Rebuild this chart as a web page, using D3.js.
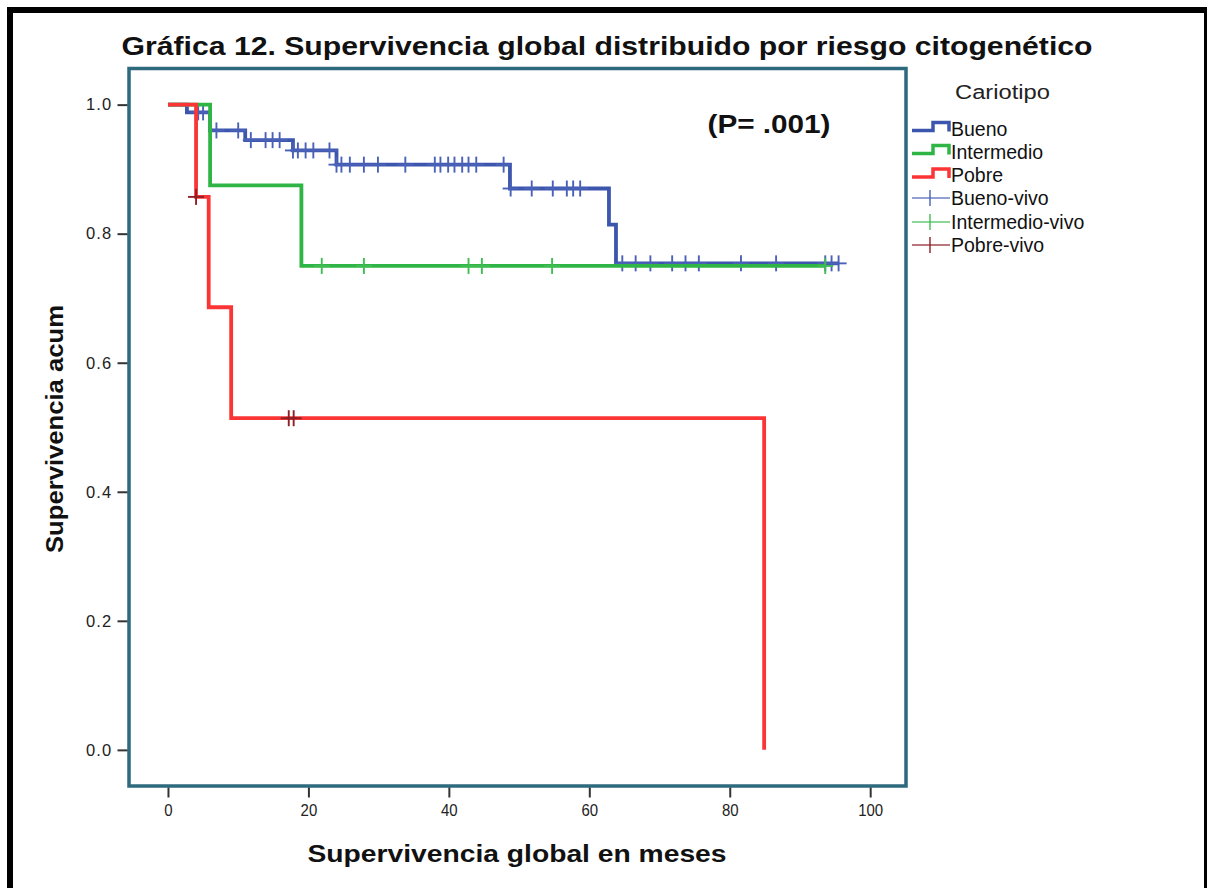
<!DOCTYPE html>
<meta charset="utf-8">
<style>
body { margin: 0; background: #fff; }
text { font-family: Arial, "Liberation Sans", sans-serif; fill: #111; }
.axis path { display: none; }
.axis line { stroke: #333; stroke-width: 2px; }
</style>
<svg width="1207" height="888"></svg>
<script src="https://d3js.org/d3.v7.min.js"></script>
<script>
// Kaplan-Meier curves: step times (months) and survival after each step
var buenoTimes = [0, 2.7, 6.0, 11.0, 17.8, 24.0, 48.7, 62.8, 63.8, 95.5];
var buenoSurv  = [1, 0.988, 0.960, 0.945, 0.929, 0.907, 0.870, 0.814, 0.754, 0.754];
var buenoCensored = [4.3, 5.0, 6.9, 10.0, 11.8, 13.9, 14.9, 15.9, 17.8, 18.5, 19.6, 20.7, 23.0,
                     24.0, 24.7, 25.9, 27.9, 29.9, 33.8, 38.0, 38.8, 39.9, 40.8, 41.9, 42.8, 43.9, 47.8,
                     48.8, 51.8, 54.8, 56.8, 57.7, 58.7,
                     64.7, 66.6, 68.7, 71.8, 73.7, 75.6, 81.6, 86.6, 93.6, 94.5, 95.5];

var intermedioTimes = [0, 6.0, 19.0, 93.6];
var intermedioSurv  = [1, 0.875, 0.75, 0.75];
var intermedioCensored = [21.9, 27.9, 42.8, 44.7, 54.7, 93.6];

var pobreTimes = [0, 4.0, 5.8, 9.0, 84.9];
var pobreSurv  = [1, 0.857, 0.686, 0.514, 0];
var pobreCensored = [4.0, 17.2, 17.9];

var xTicks = [0, 20, 40, 60, 80, 100];
var yTicks = [0, 0.2, 0.4, 0.6, 0.8, 1.0];

var groups = [
  {name: "Bueno", times: buenoTimes, surv: buenoSurv, cens: buenoCensored, color: "#3d56ad", censColor: "#4a61b8"},
  {name: "Intermedio", times: intermedioTimes, surv: intermedioSurv, cens: intermedioCensored, color: "#2fb545", censColor: "#3fbd52"},
  {name: "Pobre", times: pobreTimes, surv: pobreSurv, cens: pobreCensored, color: "#fb3535", censColor: "#8e1f26"}
];

var svg = d3.select("svg");

// outer black frame
svg.append("rect").attr("x", 7).attr("y", 7).attr("width", 1200).attr("height", 6).attr("fill", "#000");
svg.append("rect").attr("x", 7).attr("y", 7).attr("width", 6).attr("height", 881).attr("fill", "#000");
svg.append("rect").attr("x", 1204).attr("y", 7).attr("width", 3).attr("height", 881).attr("fill", "#000");

var plotLeft = 129, plotRight = 906, plotTop = 68.5, plotBottom = 786;

var x = d3.scaleLinear().domain([-5.55, 105.1]).range([plotLeft, plotRight]);
var y = d3.scaleLinear().domain([-0.056, 1.056]).range([plotBottom, plotTop]);

// plot frame
svg.append("rect")
    .attr("x", plotLeft).attr("y", plotTop)
    .attr("width", plotRight - plotLeft).attr("height", plotBottom - plotTop)
    .attr("fill", "#fff")
    .attr("stroke", "#2d6a7d")
    .attr("stroke-width", 3.5);

// axes
svg.append("g")
    .attr("class", "axis")
    .attr("transform", "translate(0," + (plotBottom + 1.5) + ")")
    .call(d3.axisBottom(x).tickValues(xTicks).tickSize(10).tickPadding(6).tickFormat(d3.format("d")))
  .selectAll("text")
    .style("font-size", "17px").style("fill", "#222")
    .each(function() {
      var n = this.getComputedTextLength();
      d3.select(this).attr("textLength", n * 0.88).attr("lengthAdjust", "spacingAndGlyphs");
    });

svg.append("g")
    .attr("class", "axis")
    .attr("transform", "translate(" + (plotLeft - 1.5) + ",0)")
    .call(d3.axisLeft(y).tickValues(yTicks).tickSize(10).tickPadding(5).tickFormat(d3.format(".1f")))
  .selectAll("text")
    .style("font-size", "16.5px").style("fill", "#222")
    .style("letter-spacing", "1.2px");

// curves
var line = d3.line()
    .x(function(d) { return x(d[0]); })
    .y(function(d) { return y(d[1]); })
    .curve(d3.curveStepAfter);

function survAt(g, t) {
  var s = g.surv[0];
  for (var i = 0; i < g.times.length; i++) {
    if (g.times[i] <= t) s = g.surv[i];
  }
  return s;
}

groups.forEach(function(g) {
  var pts = g.times.map(function(t, i) { return [t, g.surv[i]]; });
  svg.append("path")
      .attr("d", line(pts))
      .attr("fill", "none")
      .attr("stroke", g.color)
      .attr("stroke-width", 3.8);

  var cg = svg.append("g")
      .attr("stroke", g.censColor)
      .attr("stroke-width", 1.9);
  g.cens.forEach(function(t) {
    var cx = x(t), cy = y(survAt(g, t));
    cg.append("line").attr("x1", cx - 8).attr("x2", cx + 8).attr("y1", cy).attr("y2", cy);
    cg.append("line").attr("x1", cx).attr("x2", cx).attr("y1", cy - 8).attr("y2", cy + 8);
  });
});

// titles
function fit(sel, w) {
  var n = sel.node().getComputedTextLength();
  if (Math.abs(n - w) > 2) sel.attr("textLength", w).attr("lengthAdjust", "spacingAndGlyphs");
  return sel;
}

fit(svg.append("text")
    .attr("x", 607).attr("y", 55)
    .attr("text-anchor", "middle")
    .style("font-size", "25px").style("font-weight", "bold")
    .text("Gráfica 12. Supervivencia global distribuido por riesgo citogenético"), 971);

fit(svg.append("text")
    .attr("x", 769).attr("y", 133)
    .attr("text-anchor", "middle")
    .style("font-size", "25px").style("font-weight", "bold")
    .text("(P= .001)"), 123);

fit(svg.append("text")
    .attr("x", 517).attr("y", 862)
    .attr("text-anchor", "middle")
    .style("font-size", "23px").style("font-weight", "bold")
    .text("Supervivencia global en meses"), 419);

fit(svg.append("text")
    .attr("transform", "translate(63,429) rotate(-90)")
    .attr("text-anchor", "middle")
    .style("font-size", "23px").style("font-weight", "bold")
    .text("Supervivencia acum"), 248);

// legend
var lg = svg.append("g");
fit(lg.append("text")
    .attr("x", 955).attr("y", 99)
    .style("font-size", "20px").style("fill", "#222")
    .text("Cariotipo"), 95);

var rowY = [128.5, 151.5, 175, 198, 222, 245];
groups.forEach(function(g, i) {
  var cy = rowY[i];
  lg.append("path")
      .attr("d", "M912," + (cy + 2) + "H933V" + (cy - 6) + "H949V" + (cy + 3))
      .attr("fill", "none")
      .attr("stroke", g.color)
      .attr("stroke-width", 3.5);
  lg.append("text")
      .attr("x", 951).attr("y", cy + 7)
      .style("font-size", "19.5px")
      .text(g.name);
});
groups.forEach(function(g, i) {
  var cy = rowY[i + 3];
  lg.append("line").attr("x1", 912).attr("x2", 950).attr("y1", cy).attr("y2", cy)
      .attr("stroke", g.censColor).attr("stroke-width", 1.4).attr("stroke-opacity", 0.8);
  lg.append("line").attr("x1", 930).attr("x2", 930).attr("y1", cy - 8).attr("y2", cy + 8)
      .attr("stroke", g.censColor).attr("stroke-width", 1.4);
  lg.append("text")
      .attr("x", 951).attr("y", cy + 7)
      .style("font-size", "19.5px")
      .text(g.name + "-vivo");
});
</script>
